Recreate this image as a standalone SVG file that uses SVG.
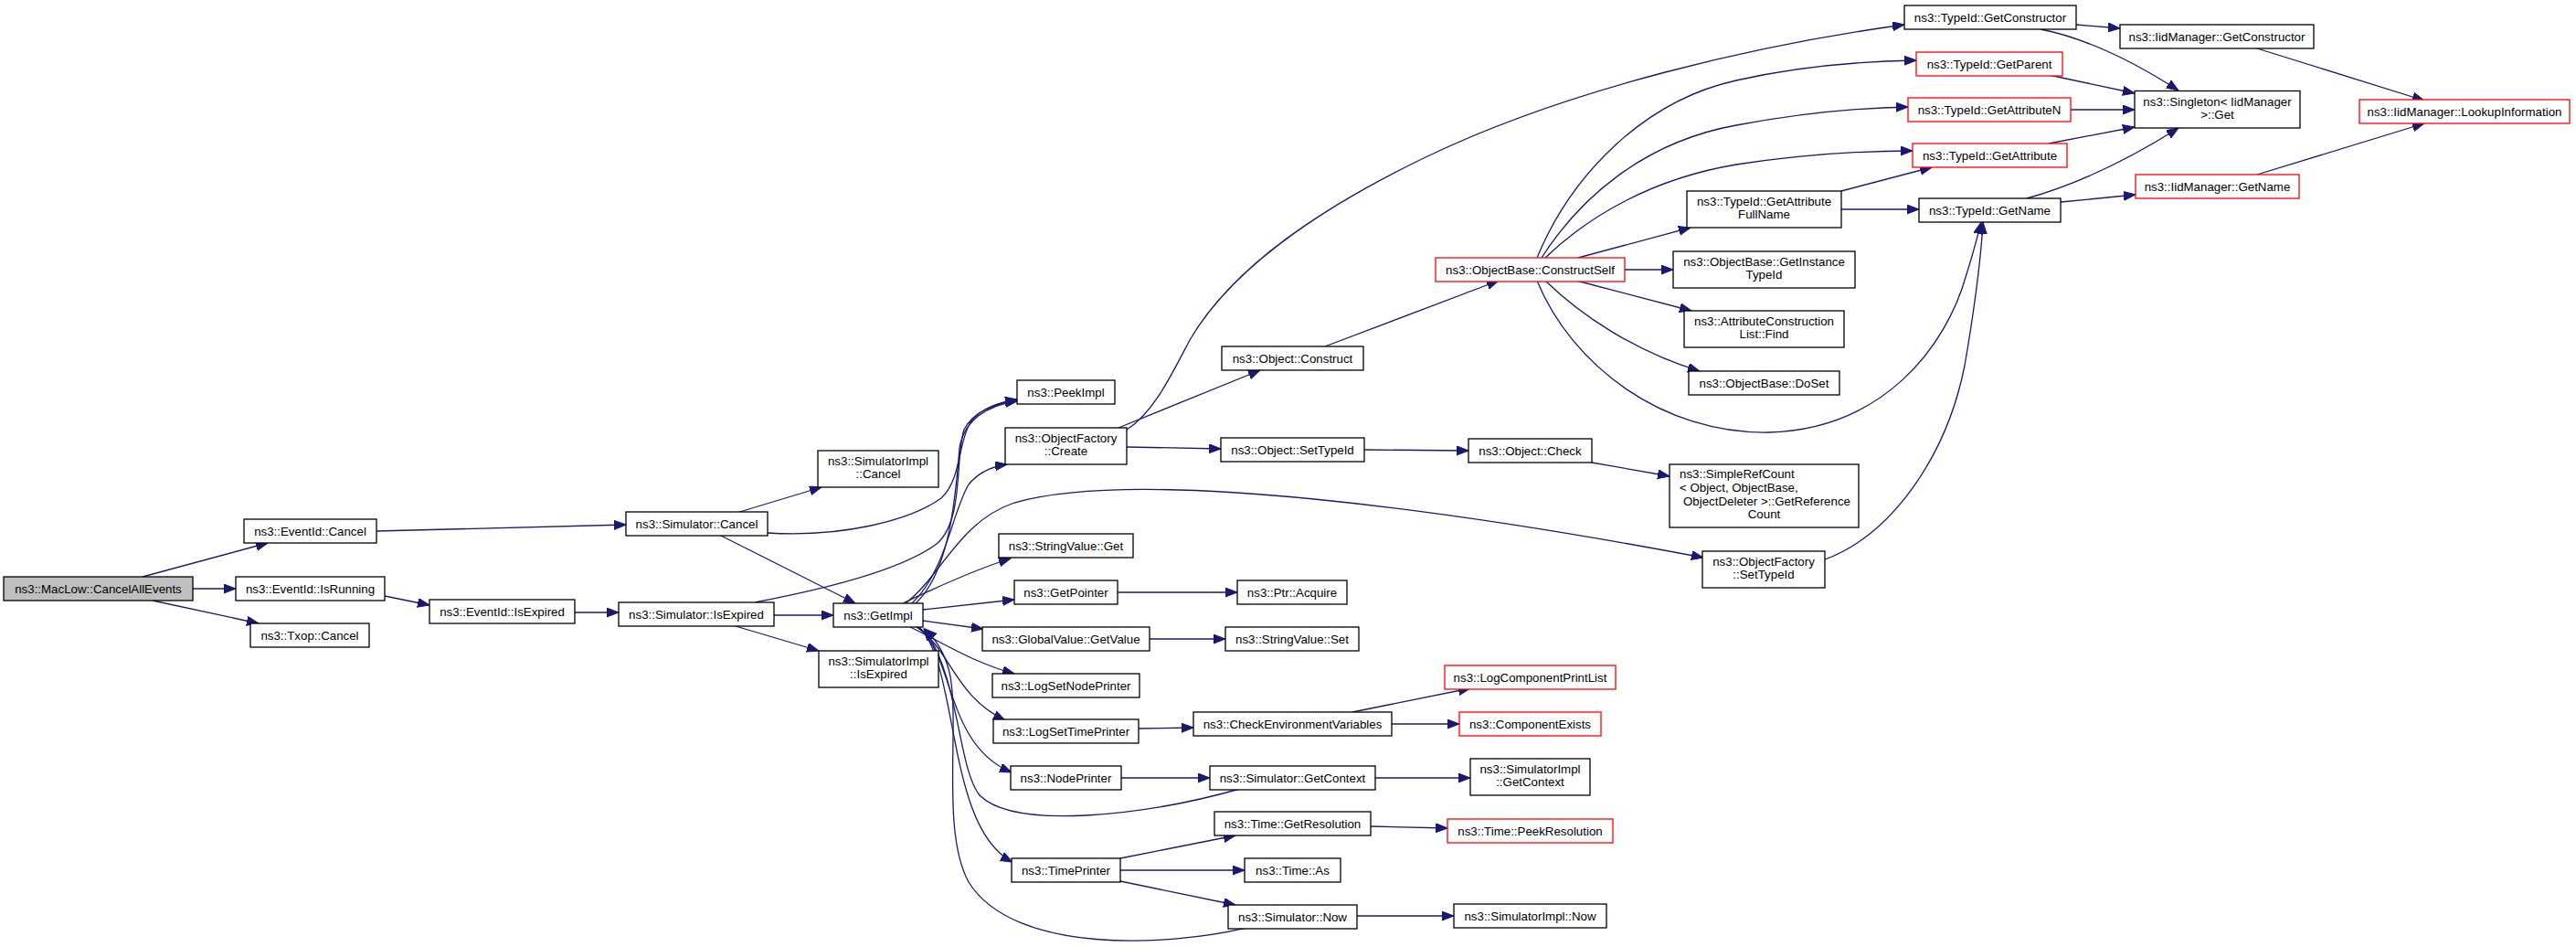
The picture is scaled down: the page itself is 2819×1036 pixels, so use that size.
<svg xmlns="http://www.w3.org/2000/svg" width="2819" height="1036" viewBox="0 0 2819 1036">
<style>
.n rect{fill:#fff;stroke:#000;stroke-width:1.3}
.n.r rect{stroke:#f00}
.n.root rect{fill:#bfbfbf}
text{font-family:"Liberation Sans",Arial,Helvetica,sans-serif;font-size:13.3px;fill:#000;text-anchor:middle}
text.l{text-anchor:start}
#edges path{fill:none;stroke:#191970;stroke-width:1.3;marker-end:url(#ah)}
</style>
<defs>
<marker id="ah" markerWidth="14" markerHeight="11" refX="13" refY="5" orient="auto" markerUnits="userSpaceOnUse">
<path d="M0,0 L13,5 L0,10 Z" fill="#191970" stroke="#191970" stroke-width="1"/>
</marker>
</defs>
<rect width="2819" height="1036" fill="#fff"/>
<g id="edges">
<path d="M156,631 L293,594"/>
<path d="M211,644 L258,644"/>
<path d="M167,657 L283,682"/>
<path d="M412,581 L685,574"/>
<path d="M421,652 L470,662"/>
<path d="M629,670 L677,670"/>
<path d="M806,561 L899,533"/>
<path d="M789,586 L936,660"/>
<path d="M840,583 C920,588 995,570 1030,545 C1052,525 1048,485 1062,462 C1075,445 1095,440 1113,437"/>
<path d="M847,673 L912,673"/>
<path d="M805,685 L896,712"/>
<path d="M826,659 C900,645 985,625 1025,595 C1055,570 1045,500 1055,470 C1065,450 1090,441 1113,438"/>
<path d="M1002,660 C1040,625 1046,540 1050,490 C1055,460 1080,443 1113,439"/>
<path d="M998,660 C1035,625 1042,560 1060,530 C1072,515 1088,510 1102,508"/>
<path d="M991,660 C1030,630 1050,570 1110,550 C1250,510 1600,560 1864,610"/>
<path d="M988,660 C1030,640 1070,622 1106,611"/>
<path d="M1010,667 L1110,656"/>
<path d="M1010,679 L1076,688"/>
<path d="M996,686 C1030,702 1065,725 1110,737"/>
<path d="M1003,686 C1040,710 1045,762 1100,788"/>
<path d="M1005,686 C1045,720 1035,815 1107,845"/>
<path d="M1006,686 C1050,730 1035,905 1108,943"/>
<path d="M1357,863 C1250,893 1110,908 1072,870 C1048,840 1050,740 1011,688"/>
<path d="M1364,1015 C1280,1035 1110,1045 1060,965 C1030,910 1050,800 1040,740 C1035,715 1025,700 1012,688"/>
<path d="M1227,851 L1324,851"/>
<path d="M1505,851 L1609,851"/>
<path d="M1246,797 L1306,796"/>
<path d="M1480,779 L1609,753"/>
<path d="M1523,792 L1597,792"/>
<path d="M1226,939 L1352,914"/>
<path d="M1226,952 L1362,952"/>
<path d="M1226,964 L1352,990"/>
<path d="M1500,904 L1584,906"/>
<path d="M1485,1002 L1591,1002"/>
<path d="M1223,648 L1354,648"/>
<path d="M1258,699 L1341,699"/>
<path d="M1224,468 L1379,405"/>
<path d="M1233,489 L1336,491"/>
<path d="M1233,470 C1262,452 1282,410 1302,372 C1350,290 1450,225 1560,172 C1720,95 1930,48 2084,27"/>
<path d="M1450,379 L1640,307"/>
<path d="M1493,492 L1607,493"/>
<path d="M1742,506 L1827,521"/>
<path d="M1682,282 C1720,190 1800,110 1900,88 C1970,72 2040,67 2097,66"/>
<path d="M1687,282 C1730,215 1800,155 1900,137 C1970,124 2030,118 2088,117"/>
<path d="M1691,282 C1740,235 1810,195 1900,180 C1980,168 2040,165 2093,165"/>
<path d="M1727,282 L1850,249"/>
<path d="M1778,295 L1831,295"/>
<path d="M1725,307 L1851,340"/>
<path d="M1691,307 C1730,345 1790,385 1860,406"/>
<path d="M1682,307 C1720,400 1820,475 1935,473 C2060,470 2130,380 2152,300 C2160,275 2165,255 2168,243"/>
<path d="M1997,612 C2070,585 2130,500 2150,400 C2162,330 2168,280 2170,243"/>
<path d="M2015,209 L2114,183"/>
<path d="M2015,229 L2100,229"/>
<path d="M2272,27 L2320,31"/>
<path d="M2233,32 Q2300,45 2384,99"/>
<path d="M2242,82 L2336,102"/>
<path d="M2266,120 L2336,120"/>
<path d="M2242,157 L2336,139"/>
<path d="M2218,217 Q2297,195 2384,140"/>
<path d="M2255,221 L2337,213"/>
<path d="M2470,53 L2653,110"/>
<path d="M2470,191 L2653,135"/>
</g>
<g id="n1" class="n root"><rect x="4" y="631" width="207" height="26"/><text x="107.5" y="648.5">ns3::MacLow::CancelAllEvents</text></g>
<g id="n2" class="n"><rect x="267" y="568" width="145" height="26"/><text x="339.5" y="585.5">ns3::EventId::Cancel</text></g>
<g id="n3" class="n"><rect x="258" y="631" width="163" height="26"/><text x="339.5" y="648.5">ns3::EventId::IsRunning</text></g>
<g id="n4" class="n"><rect x="274" y="682" width="130" height="26"/><text x="339" y="699.5">ns3::Txop::Cancel</text></g>
<g id="n5" class="n"><rect x="470" y="656" width="159" height="26"/><text x="549.5" y="673.5">ns3::EventId::IsExpired</text></g>
<g id="n6" class="n"><rect x="685" y="560" width="155" height="26"/><text x="762.5" y="577.5">ns3::Simulator::Cancel</text></g>
<g id="n7" class="n"><rect x="677" y="659" width="170" height="26"/><text x="762" y="676.5">ns3::Simulator::IsExpired</text></g>
<g id="n8" class="n"><rect x="895" y="493" width="132" height="40"/><text x="961" y="508.7">ns3::SimulatorImpl</text><text x="961" y="523.3">::Cancel</text></g>
<g id="n9" class="n"><rect x="896" y="712" width="131" height="40"/><text x="961.5" y="727.7">ns3::SimulatorImpl</text><text x="961.5" y="742.3">::IsExpired</text></g>
<g id="n10" class="n"><rect x="912" y="660" width="98" height="26"/><text x="961" y="677.5">ns3::GetImpl</text></g>
<g id="n11" class="n"><rect x="1113" y="416" width="107" height="26"/><text x="1166.5" y="433.5">ns3::PeekImpl</text></g>
<g id="n12" class="n"><rect x="1100" y="468" width="133" height="40"/><text x="1166.5" y="483.7">ns3::ObjectFactory</text><text x="1166.5" y="498.3">::Create</text></g>
<g id="n13" class="n"><rect x="1093" y="584" width="147" height="26"/><text x="1166.5" y="601.5">ns3::StringValue::Get</text></g>
<g id="n14" class="n"><rect x="1110" y="635" width="113" height="26"/><text x="1166.5" y="652.5">ns3::GetPointer</text></g>
<g id="n15" class="n"><rect x="1075" y="686" width="183" height="26"/><text x="1166.5" y="703.5">ns3::GlobalValue::GetValue</text></g>
<g id="n16" class="n"><rect x="1086" y="737" width="161" height="26"/><text x="1166.5" y="754.5">ns3::LogSetNodePrinter</text></g>
<g id="n17" class="n"><rect x="1087" y="787" width="159" height="26"/><text x="1166.5" y="804.5">ns3::LogSetTimePrinter</text></g>
<g id="n18" class="n"><rect x="1106" y="838" width="121" height="26"/><text x="1166.5" y="855.5">ns3::NodePrinter</text></g>
<g id="n19" class="n"><rect x="1107" y="939" width="119" height="26"/><text x="1166.5" y="956.5">ns3::TimePrinter</text></g>
<g id="n20" class="n"><rect x="1354" y="635" width="120" height="26"/><text x="1414" y="652.5">ns3::Ptr::Acquire</text></g>
<g id="n21" class="n"><rect x="1341" y="686" width="146" height="26"/><text x="1414" y="703.5">ns3::StringValue::Set</text></g>
<g id="n22" class="n"><rect x="1306" y="779" width="217" height="26"/><text x="1414.5" y="796.5">ns3::CheckEnvironmentVariables</text></g>
<g id="n23" class="n"><rect x="1324" y="838" width="181" height="26"/><text x="1414.5" y="855.5">ns3::Simulator::GetContext</text></g>
<g id="n24" class="n"><rect x="1329" y="888" width="171" height="26"/><text x="1414.5" y="905.5">ns3::Time::GetResolution</text></g>
<g id="n25" class="n"><rect x="1362" y="939" width="105" height="26"/><text x="1414.5" y="956.5">ns3::Time::As</text></g>
<g id="n26" class="n"><rect x="1344" y="990" width="141" height="26"/><text x="1414.5" y="1007.5">ns3::Simulator::Now</text></g>
<g id="n27" class="n"><rect x="1337" y="379" width="155" height="26"/><text x="1414.5" y="396.5">ns3::Object::Construct</text></g>
<g id="n28" class="n"><rect x="1336" y="479" width="157" height="26"/><text x="1414.5" y="496.5">ns3::Object::SetTypeId</text></g>
<g id="n29" class="n r"><rect x="1571" y="282" width="207" height="26"/><text x="1674.5" y="299.5">ns3::ObjectBase::ConstructSelf</text></g>
<g id="n30" class="n"><rect x="1607" y="480" width="135" height="26"/><text x="1674.5" y="497.5">ns3::Object::Check</text></g>
<g id="n31" class="n r"><rect x="1581" y="728" width="187" height="26"/><text x="1674.5" y="745.5">ns3::LogComponentPrintList</text></g>
<g id="n32" class="n r"><rect x="1597" y="779" width="155" height="26"/><text x="1674.5" y="796.5">ns3::ComponentExists</text></g>
<g id="n33" class="n"><rect x="1609" y="830" width="131" height="40"/><text x="1674.5" y="845.7">ns3::SimulatorImpl</text><text x="1674.5" y="860.3">::GetContext</text></g>
<g id="n34" class="n r"><rect x="1584" y="896" width="181" height="26"/><text x="1674.5" y="913.5">ns3::Time::PeekResolution</text></g>
<g id="n35" class="n"><rect x="1591" y="989" width="167" height="26"/><text x="1674.5" y="1006.5">ns3::SimulatorImpl::Now</text></g>
<g id="n36" class="n"><rect x="1846" y="209" width="169" height="40"/><text x="1930.5" y="224.7">ns3::TypeId::GetAttribute</text><text x="1930.5" y="239.3">FullName</text></g>
<g id="n37" class="n"><rect x="1831" y="275" width="199" height="40"/><text x="1930.5" y="290.7">ns3::ObjectBase::GetInstance</text><text x="1930.5" y="305.3">TypeId</text></g>
<g id="n38" class="n"><rect x="1843" y="340" width="175" height="40"/><text x="1930.5" y="355.7">ns3::AttributeConstruction</text><text x="1930.5" y="370.3">List::Find</text></g>
<g id="n39" class="n"><rect x="1848" y="406" width="165" height="26"/><text x="1930.5" y="423.5">ns3::ObjectBase::DoSet</text></g>
<g id="n40" class="n"><rect x="1827" y="508" width="207" height="69"/><text class="l" x="1838" y="523.3">ns3::SimpleRefCount</text><text class="l" x="1838" y="538">&lt; Object, ObjectBase,</text><text class="l" x="1842" y="552.7">ObjectDeleter &gt;::GetReference</text><text x="1930.5" y="567.3">Count</text></g>
<g id="n41" class="n"><rect x="1863" y="603" width="134" height="40"/><text x="1930" y="618.7">ns3::ObjectFactory</text><text x="1930" y="633.3">::SetTypeId</text></g>
<g id="n42" class="n"><rect x="2084" y="6" width="188" height="26"/><text x="2178" y="23.5">ns3::TypeId::GetConstructor</text></g>
<g id="n43" class="n r"><rect x="2097" y="57" width="160" height="26"/><text x="2177" y="74.5">ns3::TypeId::GetParent</text></g>
<g id="n44" class="n r"><rect x="2088" y="107" width="178" height="26"/><text x="2177" y="124.5">ns3::TypeId::GetAttributeN</text></g>
<g id="n45" class="n r"><rect x="2093" y="157" width="169" height="26"/><text x="2177.5" y="174.5">ns3::TypeId::GetAttribute</text></g>
<g id="n46" class="n"><rect x="2100" y="217" width="155" height="26"/><text x="2177.5" y="234.5">ns3::TypeId::GetName</text></g>
<g id="n47" class="n"><rect x="2320" y="27" width="212" height="26"/><text x="2426" y="44.5">ns3::IidManager::GetConstructor</text></g>
<g id="n48" class="n"><rect x="2336" y="99.5" width="181" height="40.5"/><text x="2426.5" y="115.5">ns3::Singleton&lt; IidManager</text><text x="2426.5" y="130">&gt;::Get</text></g>
<g id="n49" class="n r"><rect x="2337" y="191" width="179" height="26"/><text x="2426.5" y="208.5">ns3::IidManager::GetName</text></g>
<g id="n50" class="n r"><rect x="2582" y="109" width="230" height="26"/><text x="2697" y="126.5">ns3::IidManager::LookupInformation</text></g>
</svg>
